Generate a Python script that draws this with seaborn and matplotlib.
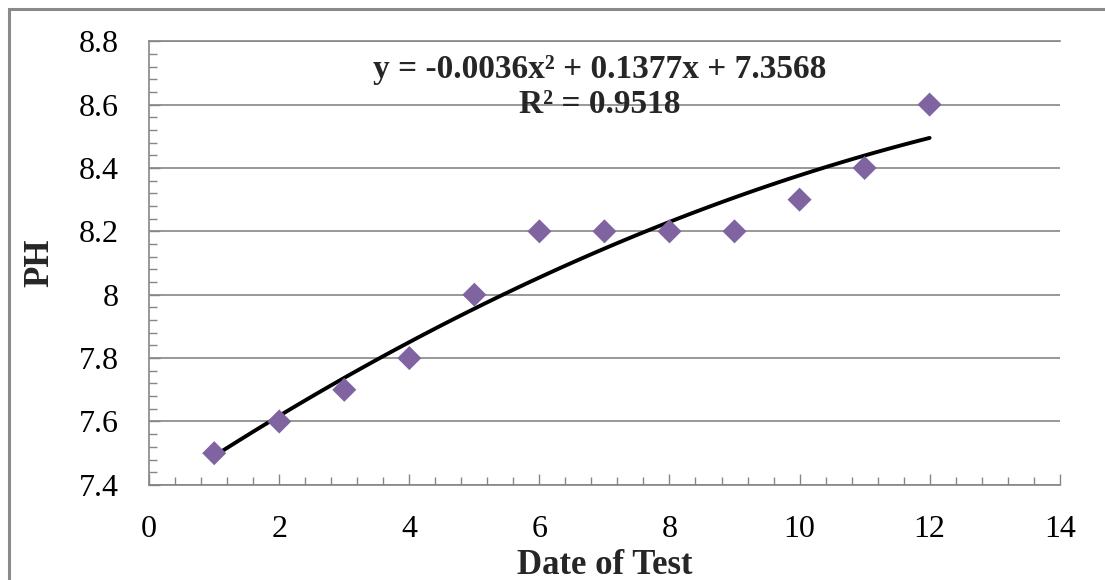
import matplotlib
matplotlib.use("Agg")
import matplotlib.pyplot as plt
from matplotlib.patches import Rectangle
from matplotlib.ticker import MultipleLocator
import numpy as np
import pandas as pd
import seaborn as sns

# pH readings per test date
test_date = [1, 2, 3, 4, 5, 6, 7, 8, 9, 10, 11, 12]
ph_value = [7.5, 7.6, 7.7, 7.8, 8.0, 8.2, 8.2, 8.2, 8.2, 8.3, 8.4, 8.6]
eq_text = "y = -0.0036x\u00b2 + 0.1377x + 7.3568"
r2_text = "R\u00b2 = 0.9518"

grey = "#868686"
purple = "#8064A2"

sns.set_style("white")
plt.rcParams['font.family'] = ['Liberation Serif', 'DejaVu Serif']

df = pd.DataFrame({"date": test_date, "ph": ph_value})

fig = plt.figure(figsize=(11.05, 5.8), dpi=100)
ax = fig.add_axes([0.135, 0.164, 0.824, 0.765])

# quadratic trendline fitted from the points
sns.regplot(data=df, x="date", y="ph", order=2, ci=None, scatter=False,
            truncate=True, color="black", line_kws={"lw": 2.8}, ax=ax)
sns.scatterplot(data=df, x="date", y="ph", marker="D", s=150,
                color=purple, edgecolor="none", zorder=3, ax=ax)

ax.set_xlim(0, 14)
ax.set_ylim(7.4, 8.8)
ax.xaxis.set_major_locator(MultipleLocator(2))
ax.xaxis.set_minor_locator(MultipleLocator(0.4))
ax.yaxis.set_minor_locator(MultipleLocator(0.04))
ax.set_yticks(np.arange(7.4, 8.81, 0.2))
ax.set_yticklabels(["7.4", "7.6", "7.8", "8", "8.2", "8.4", "8.6", "8.8"])

ax.grid(axis="y", which="major", color=grey, lw=1.2)
ax.grid(axis="x", visible=False)
for side in ["left", "bottom", "top"]:
    ax.spines[side].set_color(grey)
    ax.spines[side].set_linewidth(1.2)
ax.spines["right"].set_visible(False)

ax.tick_params(which="both", direction="in", color=grey, width=1.0,
               labelsize=23, pad=22, labelcolor="black")
ax.tick_params(which="major", length=8)
ax.tick_params(which="minor", length=5.5)
ax.tick_params(axis="x", which="both", top=False, bottom=True)
ax.tick_params(axis="y", which="both", left=True, right=False)

ax.set_xlabel("Date of Test", fontsize=25, fontweight="bold", labelpad=3)
ax.set_ylabel("PH", fontsize=25, fontweight="bold", labelpad=16)

ax.text(6.93, 8.712, eq_text, ha="center", va="center",
        fontsize=24, fontweight="bold")
ax.text(6.93, 8.600, r2_text, ha="center", va="center",
        fontsize=24, fontweight="bold")

# chart frame (cropped on right and bottom)
fig.patches.append(Rectangle((0.0081, -0.1), 1.2, 1.0845, transform=fig.transFigure,
                             fill=False, edgecolor="#8a8a8a", lw=2.2))

fig.savefig("out.png", dpi=100)
